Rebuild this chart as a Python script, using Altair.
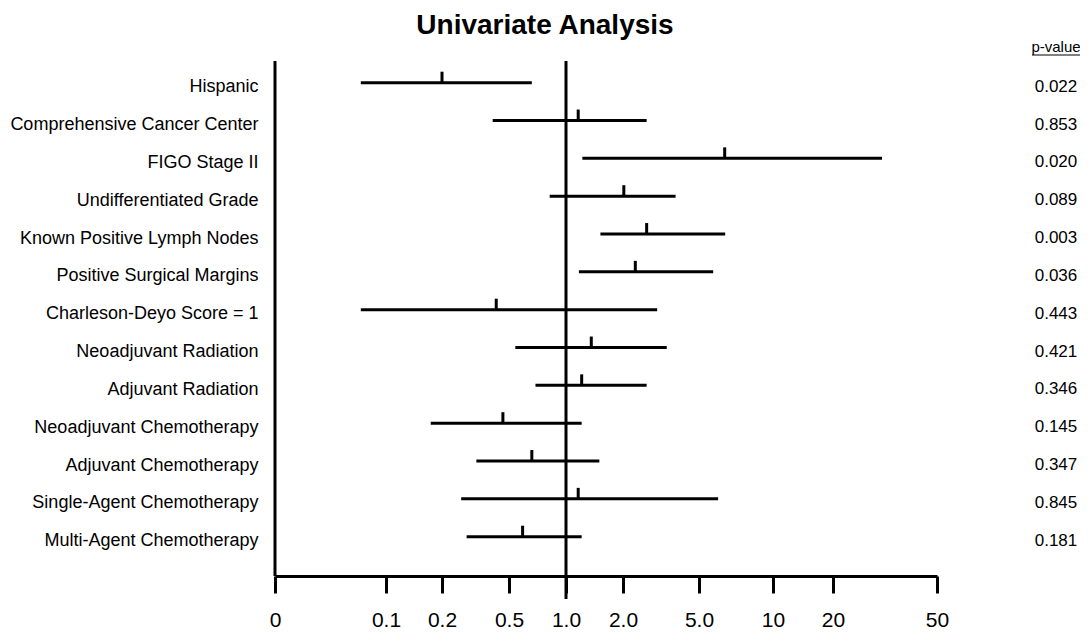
import altair as alt
import pandas as pd

# ---- data ----
labels = [
    "Hispanic",
    "Comprehensive Cancer Center",
    "FIGO Stage II",
    "Undifferentiated Grade",
    "Known Positive Lymph Nodes",
    "Positive Surgical Margins",
    "Charleson-Deyo Score = 1",
    "Neoadjuvant Radiation",
    "Adjuvant Radiation",
    "Neoadjuvant Chemotherapy",
    "Adjuvant Chemotherapy",
    "Single-Agent Chemotherapy",
    "Multi-Agent Chemotherapy",
]
estimate = [0.20, 1.16, 6.36, 2.02, 2.66, 2.32, 0.42, 1.36, 1.21, 0.46, 0.66, 1.16, 0.59]
lower = [0.073, 0.40, 1.22, 0.82, 1.52, 1.17, 0.073, 0.54, 0.69, 0.174, 0.32, 0.26, 0.28]
upper = [0.66, 2.66, 30.8, 3.77, 6.39, 5.71, 3.02, 3.39, 2.66, 1.21, 1.50, 5.98, 1.21]
pvalues = ["0.022", "0.853", "0.020", "0.089", "0.003", "0.036", "0.443",
           "0.421", "0.346", "0.145", "0.347", "0.845", "0.181"]

tick_values = [0.025, 0.1, 0.2, 0.5, 1, 2, 5, 10, 20, 50]

df = pd.DataFrame({"label": labels, "est": estimate, "lo": lower,
                   "hi": upper, "p": pvalues})

# ---- layout / style (hand-drawn, slightly uneven log axis) ----
W, H = 662, 515
axis_px = [0, 111, 167, 234, 291, 348, 424, 498, 558, 662]
FONT = "Liberation Sans"

xscale = alt.Scale(type="log", domain=tick_values, range=axis_px,
                   nice=False, zero=False)
xaxis = alt.Axis(values=tick_values, title=None, grid=False,
                 labelExpr="datum.value < 0.05 ? '0' : (datum.value < 10 ? format(datum.value, '.1f') : format(datum.value, 'd'))",
                 labelFontSize=21, labelFont=FONT, labelColor="black",
                 labelPadding=16, tickSize=17, tickWidth=3, tickColor="black",
                 domainWidth=3, domainColor="black", labelFlush=False,
                 labelOverlap=False)

yscale = alt.Scale(type="point", range=[21.7, 475.7], padding=0)
yaxis = alt.Axis(title=None, grid=False, ticks=False, tickSize=0,
                 labelFontSize=18, labelFont=FONT, labelColor="black",
                 labelPadding=17, labelOffset=4, labelLimit=0,
                 domain=False)


def Y():
    return alt.Y("label:N", sort=labels, scale=yscale, axis=yaxis)


base = alt.Chart(df)

bars = base.mark_rule(color="black", strokeWidth=3).encode(
    x=alt.X("lo:Q", scale=xscale, axis=xaxis),
    x2="hi:Q",
    y=Y(),
)

points = base.mark_tick(color="black", thickness=3, size=11, yOffset=-5.5,
                        opacity=1, orient="vertical").encode(
    x=alt.X("est:Q", scale=xscale, axis=xaxis),
    y=Y(),
)

# vertical reference line at 1.0 (runs a little past the axis)
refline = alt.Chart(pd.DataFrame({"v": [1.0]})).mark_rule(
    color="black", strokeWidth=3).encode(
    x=alt.X("v:Q", scale=xscale, axis=xaxis),
    y=alt.value(0),
    y2=alt.value(H + 23),
)

# left axis line at the "0" end
leftline = alt.Chart(pd.DataFrame({"v": [tick_values[0]]})).mark_rule(
    color="black", strokeWidth=3).encode(
    x=alt.X("v:Q", scale=xscale, axis=xaxis),
    y=alt.value(0),
    y2=alt.value(H),
)

ptext = base.mark_text(fontSize=17, font=FONT, color="black", align="center",
                       baseline="middle", dy=4).encode(
    x=alt.value(781),
    y=Y(),
    text="p:N",
)

header = alt.Chart(pd.DataFrame({"t": ["p-value"]})).mark_text(
    fontSize=15, font=FONT, color="black", align="center",
    baseline="middle").encode(
    x=alt.value(781), y=alt.value(-14), text="t:N")

underline = alt.Chart(pd.DataFrame({"t": ["p-value"]})).mark_rule(
    color="black", strokeWidth=1).encode(
    x=alt.value(757), x2=alt.value(805), y=alt.value(-6))

chart = alt.layer(bars, points, refline, leftline, ptext, header,
                  underline).properties(
    width=W,
    height=H,
    title=alt.TitleParams("Univariate Analysis", fontSize=28, font=FONT,
                          fontWeight="bold", color="black", anchor="middle",
                          frame="group", dx=-61, offset=0.5),
    autosize=alt.AutoSizeParams(type="none"),
    padding={"left": 267, "top": 53, "right": 143, "bottom": 58},
).configure_view(stroke=None)

chart.save("out.html", embed_options={"renderer": "svg", "actions": False})
